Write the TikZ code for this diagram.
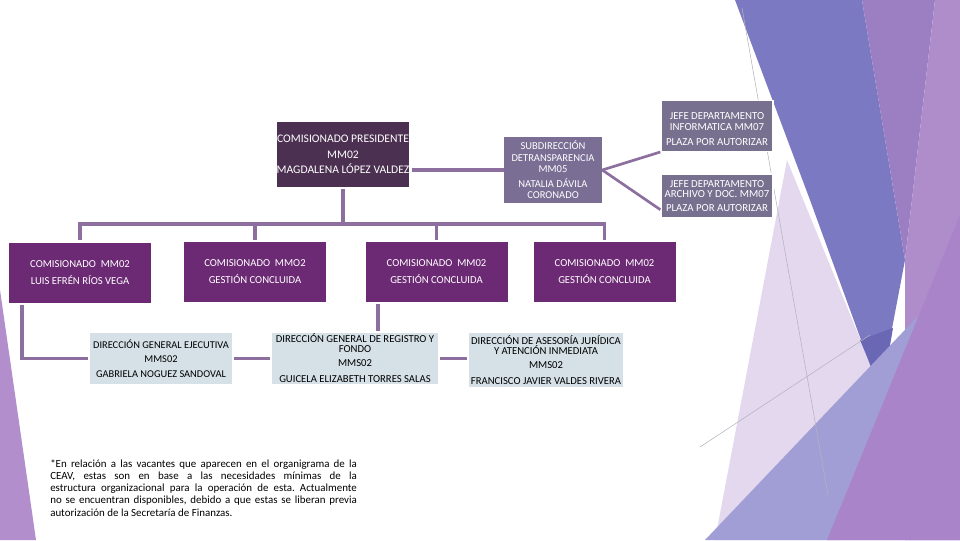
\documentclass[tikz,border=0pt]{standalone}
\usepackage{fontspec}
\setmainfont{Carlito}
\usetikzlibrary{calc}
\definecolor{presc}{HTML}{4C3051}
\definecolor{subc}{HTML}{7A6E94}
\definecolor{jefec}{HTML}{77708F}
\definecolor{comc}{HTML}{6C2A74}
\definecolor{lightc}{HTML}{D5E1E7}
\definecolor{connc}{HTML}{8C6F9E}
\definecolor{bglav}{HTML}{E3D8EE}
\definecolor{bgblue}{HTML}{7B79C1}
\definecolor{bgpurp}{HTML}{9C7EC3}
\definecolor{bglpurp}{HTML}{AF8DCB}
\definecolor{bglowblue}{HTML}{A09ED4}
\definecolor{bglowpurp}{HTML}{AA84C8}
\definecolor{bgdark}{HTML}{6A67B5}
\definecolor{bgsliver}{HTML}{B28ECC}
\definecolor{bgline}{HTML}{B4B2BE}
\tikzset{
  orgbox/.style={rectangle, inner sep=0pt, align=center},
  darkbox/.style={orgbox, text=white},
  lightbox/.style={orgbox, fill=lightc, text=black},
  conn/.style={draw=connc, line width=2.6pt, shorten <=1.5pt, shorten >=1.5pt},
  thinconn/.style={draw=connc, line width=2pt},
}
\begin{document}
\begin{tikzpicture}[x=0.75pt,y=-0.75pt]
\useasboundingbox (0,0) rectangle (960,540);
% background facets
\fill[bglav] (787,160) -- (885,400) -- (840,540) -- (715,540) -- cycle;
\fill[bgblue] (735,0) -- (862,0) -- (905,260) -- (880,392) -- (810,200) -- cycle;
\fill[bgpurp] (862,0) -- (935,0) -- (905,260) -- cycle;
\fill[bglpurp] (935,0) -- (960,0) -- (960,540) -- (905,540) -- (905,260) -- cycle;
\fill[bgdark] (860,340) -- (893,328) -- (882,392) -- cycle;
\fill[bglowblue] (705,540) -- (960,272) -- (960,540) -- cycle;
\fill[bglowpurp] (827,540) -- (960,215) -- (960,540) -- cycle;
\draw[bgline, line width=0.4pt] (742,8) -- (828,495);
\draw[bgline, line width=0.4pt] (700,447) -- (870,335);
\fill[bgsliver] (0,290) -- (36,540) -- (0,540) -- cycle;

% top level
\node[darkbox, fill=presc, minimum width=99pt, minimum height=48.75pt,
      font=\fontsize{8.7}{11.6}\selectfont] (pres) at (343,154.5)
  {COMISIONADO PRESIDENTE\\MM02\\MAGDALENA LÓPEZ VALDEZ};
\node[darkbox, fill=subc, minimum width=73.5pt, minimum height=49.5pt,
      font=\fontsize{7.9}{8.4}\selectfont] (sub) at (553,170)
  {SUBDIRECCIÓN\\DETRANSPARENCIA\\MM05\\[3pt]NATALIA DÁVILA\\CORONADO};
\node[darkbox, fill=jefec, draw=white, line width=1pt, minimum width=84pt, minimum height=38pt,
      font=\fontsize{8.1}{8.2}\selectfont] (jefea) at (717,126)
  {\rule{0pt}{10pt}JEFE DEPARTAMENTO\\INFORMATICA MM07\\[3pt]PLAZA POR AUTORIZAR};
\node[darkbox, fill=jefec, draw=white, line width=1pt, minimum width=84pt, minimum height=33pt,
      font=\fontsize{8.1}{7.4}\selectfont] (jefeb) at (717,196)
  {JEFE DEPARTAMENTO\\ARCHIVO Y DOC. MM07\\[3.5pt]PLAZA POR AUTORIZAR};

% commissioners
\tikzset{combox/.style={darkbox, fill=comc, minimum width=106.5pt, minimum height=45pt,
      font=\fontsize{8}{12.75}\selectfont}}
\node[combox] (ca) at (80,272.5) {COMISIONADO\ \ MM02\\LUIS EFRÉN RÍOS VEGA};
\node[combox] (cb) at (255,272) {COMISIONADO\ \ MMO2\\GESTIÓN CONCLUIDA};
\node[combox] (cc) at (436.5,272) {COMISIONADO\ \ MM02\\GESTIÓN CONCLUIDA};
\node[combox] (cd) at (604.5,272) {COMISIONADO\ \ MM02\\GESTIÓN CONCLUIDA};

% directions
\node[lightbox, minimum width=106.5pt, minimum height=38.25pt,
      font=\fontsize{7.8}{11}\selectfont] (dge) at (161,358.5)
  {DIRECCIÓN GENERAL EJECUTIVA\\MMS02\\GABRIELA NOGUEZ SANDOVAL};
\node[lightbox, minimum width=124.5pt, minimum height=38.25pt,
      font=\fontsize{8}{7.5}\selectfont] (dgrf) at (355,358.5)
  {DIRECCIÓN GENERAL DE REGISTRO Y\\FONDO\\[3pt]MMS02\\[4.5pt]GUICELA ELIZABETH TORRES SALAS};
\node[lightbox, minimum width=115.5pt, minimum height=40.5pt,
      font=\fontsize{8}{7.5}\selectfont] (daj) at (546,360)
  {DIRECCIÓN DE ASESORÍA JURÍDICA\\Y ATENCIÓN INMEDIATA\\[3pt]MMS02\\[4.5pt]FRANCISCO JAVIER VALDES RIVERA};

% note
\node[anchor=north west, inner sep=0pt, text width=230pt, align=justify,
      font=\fontsize{8.2}{9.2}\selectfont] (note) at (50,459)
  {\frenchspacing *En relación a las vacantes que aparecen en el organigrama de la\linebreak
   CEAV, estas son en base a las necesidades mínimas de la\linebreak
   estructura organizacional para la operación de esta. Actualmente\linebreak
   no se encuentran disponibles, debido a que estas se liberan previa\linebreak
   autorización de la Secretaría de Finanzas.};

% connectors
\coordinate (junc) at (343,224);
\draw[conn, shorten >=0pt] (pres.south) -- (junc);
\draw[conn, shorten <=0pt] (junc) -| (ca.north);
\draw[conn, shorten <=0pt] (junc) -| (cb.north);
\draw[conn, shorten <=0pt] (junc) -| (cc.north);
\draw[conn, shorten <=0pt] (junc) -| (cd.north);
\draw[conn, shorten <=0pt] (sub.west) -- (sub.west -| pres.east);
\draw[thinconn] (sub.east) -- (jefea.south west);
\draw[thinconn] (sub.east) -- ($(jefeb.south west)+(0,-9)$);
\draw[conn] ($(ca.south)+(-58,0)$) |- (dge.west);
\draw[conn] (dge.east) -- (dgrf.west);
\draw[conn] ($(cc.south)+(-58.5,0)$) coordinate (cctap) -- (cctap |- dgrf.north);
\draw[conn] (dgrf.east) -- (dgrf.east -| daj.west);
\end{tikzpicture}
\end{document}
